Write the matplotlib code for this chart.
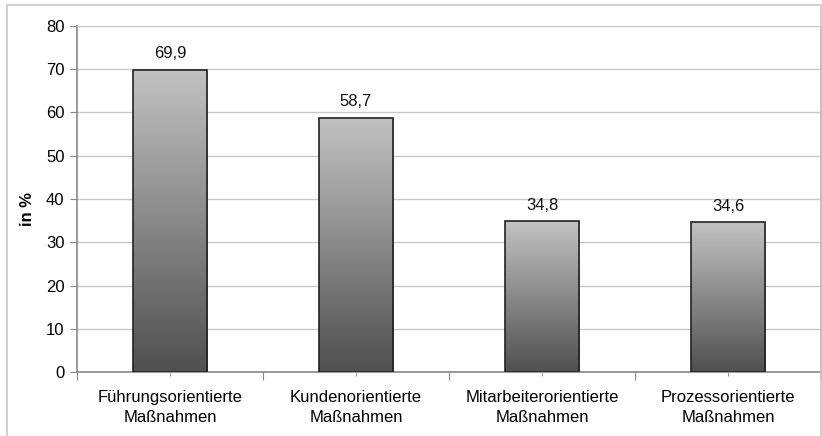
import matplotlib
matplotlib.use("Agg")
import matplotlib.pyplot as plt
import numpy as np
from matplotlib.patches import Rectangle

categories = ["Führungsorientierte\nMaßnahmen", "Kundenorientierte\nMaßnahmen",
              "Mitarbeiterorientierte\nMaßnahmen", "Prozessorientierte\nMaßnahmen"]
values = [69.9, 58.7, 34.8, 34.6]
labels = ["69,9", "58,7", "34,8", "34,6"]
yticks = [0, 10, 20, 30, 40, 50, 60, 70, 80]

plt.rcParams['font.family'] = ['Liberation Sans', 'DejaVu Sans']

fig = plt.figure(figsize=(8.22, 4.36), dpi=100)
# outer border
fig.patches.append(Rectangle((7/822, -0.01), (821-7)/822, 1 - 5/436 + 0.01,
                             transform=fig.transFigure, fill=False,
                             edgecolor='#c8c8c8', linewidth=1.2))
ax = fig.add_axes([77/822, 1 - 372/436, (821-77)/822, (372-26)/436])

x = np.arange(len(values))
width = 0.40
bars = ax.bar(x, values, width=width, color='none', edgecolor='#222222',
              linewidth=1.2, zorder=3)

grad = np.linspace(0, 1, 256).reshape(-1, 1)
cmap = matplotlib.colors.LinearSegmentedColormap.from_list('g', ['#505050', '#c2c2c2'])
for b in bars:
    x0, w, h = b.get_x(), b.get_width(), b.get_height()
    im = ax.imshow(grad, extent=[x0, x0 + w, 0, h], origin='lower', aspect='auto',
                   cmap=cmap, zorder=2)
    clip = Rectangle((x0, 0), w, h, transform=ax.transData)
    im.set_clip_path(clip)

for xi, v, lab in zip(x, values, labels):
    ax.text(xi, v + 2.0, lab, ha='center', va='bottom', fontsize=12, color='#111111')

ax.set_xlim(-0.5, len(values) - 0.5)
ax.set_ylim(0, 80)
ax.set_yticks(yticks)
ax.set_yticklabels([str(t) for t in yticks], fontsize=12)
ax.yaxis.grid(True, color='#c8c8c8', linewidth=1.0, zorder=0)
ax.set_axisbelow(True)

ax.set_xticks(np.arange(len(values) + 1) - 0.5)
ax.set_xticklabels([])
ax.set_xticks(x, minor=True)
ax.set_xticklabels(categories, minor=True, fontsize=12, linespacing=1.45)
ax.tick_params(axis='x', which='major', length=6, color='#888888')
ax.tick_params(axis='x', which='minor', length=3, color='#888888', pad=10)
ax.tick_params(axis='y', length=5, color='#888888', pad=4)

ax.set_ylabel("in %", fontsize=12, fontweight='bold')
ax.yaxis.set_label_coords(-0.057, 0.47)

for s in ['left', 'bottom']:
    ax.spines[s].set_color('#888888')
    ax.spines[s].set_linewidth(1.2)
ax.spines['top'].set_color('#c8c8c8')
ax.spines['right'].set_color('#999999')
ax.spines['right'].set_linewidth(1.2)

fig.savefig("out.png", dpi=100)
